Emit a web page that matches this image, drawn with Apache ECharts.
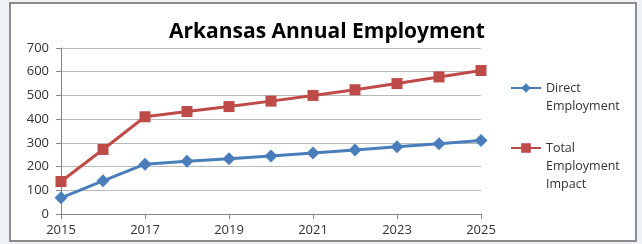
<!DOCTYPE html>
<html>
<head>
<meta charset="utf-8">
<script src="https://cdn.jsdelivr.net/npm/echarts@6/dist/echarts.min.js"></script>
<style>
  html, body { margin: 0; padding: 0; background: #eef1f5; }
  #chart { width: 642px; height: 244px; }
</style>
</head>
<body>
<div id="chart"></div>
<script>
"use strict";

const years = ["2015", "2016", "2017", "2018", "2019", "2020", "2021", "2022", "2023", "2024", "2025"];
const directEmployment = [68, 140, 210, 222, 233, 245, 257, 270, 284, 296, 310];
const totalEmployment = [137, 272, 410, 432, 453, 476, 500, 524, 550, 578, 605];
const seriesNames = ["Direct Employment", "Total Employment Impact"];
// leading blank lines keep the first text line level with the legend icon
const legendLabels = {
  "Direct Employment": "\nDirect\nEmployment",
  "Total Employment Impact": "\n\nTotal\nEmployment\nImpact"
};

const font = "Open Sans";

// one legend per series so each can be placed on its own
const makeLegend = (name, top) => ({
  orient: "vertical",
  left: 510,
  top: top,
  padding: 0,
  itemWidth: 30,
  itemHeight: 12,
  data: [name],
  formatter: (n) => legendLabels[n],
  textStyle: { fontFamily: font, fontSize: 12.5, color: "#333", lineHeight: 18 }
});

const chart = echarts.init(document.getElementById("chart"));

chart.setOption({
  animation: false,
  graphic: [{
    type: "rect",
    z: -10,
    shape: { x: 10, y: 3, width: 626, height: 238 },
    style: { fill: "#ffffff", stroke: "#8c8c8c", lineWidth: 2 }
  }],
  title: {
    text: "Arkansas Annual Employment",
    left: 322,
    textAlign: "center",
    top: 17,
    textStyle: { fontFamily: font, fontWeight: "bold", fontSize: 21, color: "#000" }
  },
  legend: [
    makeLegend(seriesNames[0], 61),
    makeLegend(seriesNames[1], 103)
  ],
  grid: { left: 61, right: 161, top: 48, bottom: 30 },
  xAxis: {
    type: "category",
    data: years,
    boundaryGap: false,
    axisLine: { lineStyle: { color: "#888" } },
    axisTick: { interval: 1, length: 5, lineStyle: { color: "#888" } },
    axisLabel: { interval: 1, fontFamily: font, fontSize: 13, color: "#333", margin: 10 }
  },
  yAxis: {
    type: "value",
    min: 0,
    max: 700,
    interval: 100,
    axisLine: { show: true, lineStyle: { color: "#888" } },
    axisTick: { show: true, length: 5, lineStyle: { color: "#888" } },
    axisLabel: { fontFamily: font, fontSize: 13, color: "#333", margin: 12 },
    splitLine: { lineStyle: { color: "#b8b8b8" } }
  },
  series: [
    {
      name: seriesNames[0],
      type: "line",
      data: directEmployment,
      symbol: "diamond",
      symbolSize: 13,
      color: "#4a7ebb",
      lineStyle: { width: 3 }
    },
    {
      name: seriesNames[1],
      type: "line",
      data: totalEmployment,
      symbol: "rect",
      symbolSize: 11,
      color: "#be4b48",
      lineStyle: { width: 3 }
    }
  ]
});
</script>
</body>
</html>
